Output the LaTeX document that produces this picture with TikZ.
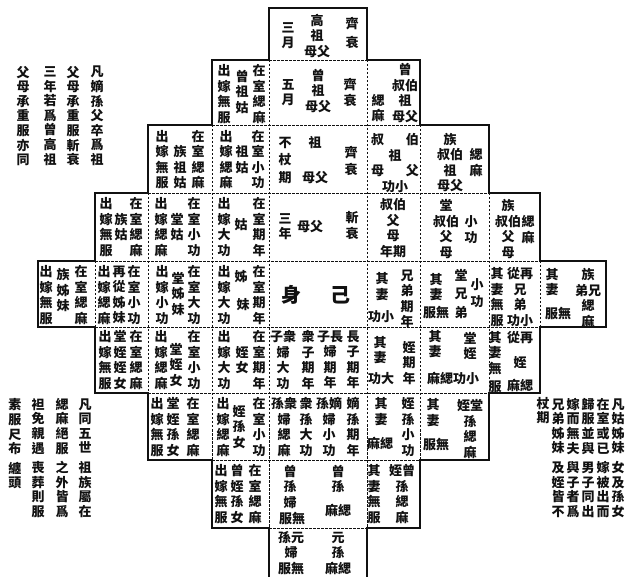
\documentclass[tikz,border=0pt]{standalone}
\usepackage{fontspec}
\setmainfont{Noto Sans CJK TC}
\usepackage{tikz}
\usetikzlibrary{positioning}
\definecolor{cink}{HTML}{111111}

\tikzset{
  vt/.style={cink, align=center, inner sep=0pt, font=\fontsize{13}{15.5}\selectfont\bfseries},
  nt/.style={cink, align=center, inner sep=0pt, font=\fontsize{13}{14.6}\selectfont\bfseries},
  bigch/.style={cink, inner sep=0pt, font=\fontsize{20}{20}\selectfont\bfseries},
  rim/.style={cink, line width=1.8pt, line join=miter},
  seam/.style={cink, line width=0.7pt, dash pattern=on 2.5pt off 1.5pt},
}

\begin{document}
\begin{tikzpicture}[x=1pt, y=-1pt]
\useasboundingbox (0,0) rectangle (627,577);
\fill[white] (0,0) rectangle (627,577);

% grid edges
\def\colA{38}\def\colB{95}\def\colC{148}\def\colD{212}\def\colE{269}
\def\colF{367}\def\colG{420}\def\colH{489}\def\colI{540}\def\colJ{606}
\def\rowA{8}\def\rowB{60}\def\rowC{125}\def\rowD{193}\def\rowE{261}
\def\rowF{327}\def\rowG{393}\def\rowH{460}\def\rowI{528}\def\rowJ{577}

% ============================================================
% Outline (stepped diamond) and inner seams
\draw[rim] (\colE,\rowJ) -- (\colE,\rowI) -- (\colD,\rowI) -- (\colD,\rowH)
  -- (\colC,\rowH) -- (\colC,\rowG) -- (\colB,\rowG) -- (\colB,\rowF)
  -- (\colA,\rowF) -- (\colA,\rowE) -- (\colB,\rowE) -- (\colB,\rowD)
  -- (\colC,\rowD) -- (\colC,\rowC) -- (\colD,\rowC) -- (\colD,\rowB)
  -- (\colE,\rowB) -- (\colE,\rowA) -- (\colF,\rowA) -- (\colF,\rowB)
  -- (\colG,\rowB) -- (\colG,\rowC) -- (\colH,\rowC) -- (\colH,\rowD)
  -- (\colI,\rowD) -- (\colI,\rowE) -- (\colJ,\rowE) -- (\colJ,\rowF)
  -- (\colI,\rowF) -- (\colI,\rowG) -- (\colH,\rowG) -- (\colH,\rowH)
  -- (\colG,\rowH) -- (\colG,\rowI) -- (\colF,\rowI) -- (\colF,\rowJ);

\foreach \l/\r/\t/\b in {\colE/\colF/\rowB/\rowI, \colD/\colG/\rowC/\rowH,
                         \colC/\colH/\rowD/\rowG, \colB/\colI/\rowE/\rowF}{
  \draw[seam] (\l,\t) -- (\r,\t);
  \draw[seam] (\l,\b) -- (\r,\b);
  \draw[seam] (\l,\t) -- (\l,\b);
  \draw[seam] (\r,\t) -- (\r,\b);
}

% ============================================================
% Row 1: great-great-grandparents
\node[vt] (r1m) at (288,35.5) {三\\月};
\node[vt] (r1n) at (317,36) {高\\祖\\母父};
\node[vt] (r1s) at (352,33) {齊\\[4pt]衰};

% Row 2
\node[vt] (r2ao) at (224,94) {出\\嫁\\無\\服};
\node[vt] (r2an) at (242,92) {曾\\祖\\姑};
\node[vt] (r2ai) at (259,94) {在\\室\\緦\\麻};
\node[vt] (r2bm) at (288,92.5) {五\\月};
\node[vt] (r2bn) at (318,91) {曾\\祖\\母父};
\node[vt] (r2bs) at (350,92.5) {齊\\衰};
\node[vt] (r2cn) at (405,93) {曾\\叔伯\\祖\\母父};
\node[vt] (r2cs) at (378,108) {緦\\麻};

% Row 3
\node[vt] (r3ao) at (162,159.75) {出\\嫁\\無\\服};
\node[vt] (r3an) at (180,167.5) {族\\祖\\姑};
\node[vt] (r3ai) at (198,159.75) {在\\室\\緦\\麻};
\node[vt] (r3bo) at (226,159.75) {出\\嫁\\緦\\麻};
\node[vt] (r3bn) at (242,159.75) {祖\\姑};
\node[vt] (r3bi) at (258,159.75) {在\\室\\小\\功};
\node[vt] (r3cm) at (285,160.5) {不\\[2pt]杖\\[2pt]期};
\node[vt] (r3cn) at (315,143) {祖};
\node[vt] (r3cp) at (315,178) {母父};
\node[vt] (r3cs) at (351,161) {齊\\[2pt]衰};
\node[vt] (r3dn) at (395,163) {叔\hspace{22pt}伯\\祖\\母\hspace{22pt}父\\功小};
\node[vt] (r3en) at (450,162.5) {族\\叔伯\\祖\\母父};
\node[vt] (r3es) at (476,162.5) {緦\\麻};

% Row 4
\node[vt] (r4ao) at (106,227) {出\\嫁\\無\\服};
\node[vt] (r4an) at (121,227) {族\\姑};
\node[vt] (r4ai) at (136,227) {在\\室\\緦\\麻};
\node[vt] (r4bo) at (161,227) {出\\嫁\\緦\\麻};
\node[vt] (r4bn) at (177,227) {堂\\姑};
\node[vt] (r4bi) at (194,227) {在\\室\\小\\功};
\node[vt] (r4co) at (224,227) {出\\嫁\\大\\功};
\node[vt] (r4cn) at (241,225) {姑};
\node[vt] (r4ci) at (259,227) {在\\室\\期\\年};
\node[vt] (r4dm) at (285,226.5) {三\\年};
\node[vt] (r4dn) at (310,227) {母父};
\node[vt] (r4ds) at (352,225.5) {斬\\衰};
\node[vt] (r4en) at (393,228) {叔伯\\父\\母\\年期};
\node[vt] (r4fn) at (446,229) {堂\\叔伯\\父\\母};
\node[vt] (r4fs) at (471,229.5) {小\\功};
\node[vt] (r4gn) at (508,229) {族\\叔伯\\父\\母};
\node[vt] (r4gs) at (528,229.5) {緦\\麻};

% ============================================================
% Row 5: self
\node[vt] (r5ao) at (46,295) {出\\嫁\\無\\服};
\node[vt] (r5an) at (63,290) {族\\姊\\妹};
\node[vt] (r5ai) at (81,295) {在\\室\\緦\\麻};
\node[vt] (r5bo) at (104,295) {出\\嫁\\緦\\麻};
\node[vt] (r5bn) at (119,295) {再\\從\\姊\\妹};
\node[vt] (r5bi) at (134,295) {在\\室\\小\\功};
\node[vt] (r5co) at (162,295) {出\\嫁\\小\\功};
\node[vt] (r5cn) at (178,294) {堂\\姊\\妹};
\node[vt] (r5ci) at (194,295) {在\\室\\大\\功};
\node[vt] (r5do) at (224,295) {出\\嫁\\大\\功};
\node[vt] (r5dn) at (241,277) {姊};
\node[vt] (r5dp) at (243,305) {妹};
\node[vt] (r5di) at (259,295) {在\\室\\期\\年};
\node[bigch] (self1) at (291,295) {身};
\node[bigch] (self2) at (340,295) {己};
\node[vt] (r5fw) at (382,286.5) {其\\妻};
\node[vt] (r5fn) at (407,299) {兄\\弟\\期\\年};
\node[vt] (r5fs) at (381,317) {功小};
\node[vt] (r5gw) at (436,287) {其\\妻};
\node[vt] (r5gs) at (436,312) {服無};
\node[vt] (r5gn) at (461,294) {堂\\[3pt]兄\\[3pt]弟};
\node[vt] (r5gt) at (477,293) {小\\[2pt]功};
\node[vt] (r5hw) at (497,297) {其\\妻\\無\\服};
\node[vt] (r5hn) at (520,297) {從再\\兄\\弟\\功小};
\node[vt] (r5iw) at (552,282) {其\\妻};
\node[vt] (r5in) at (588,298) {族\\弟兄\\緦\\麻};
\node[vt] (r5is) at (558,313) {服無};

% ============================================================
% Row 6: sons
\node[vt] (r6ao) at (105,360) {出\\嫁\\無\\服};
\node[vt] (r6an) at (120,360) {堂\\姪\\姪\\女};
\node[vt] (r6ai) at (136,360) {在\\室\\緦\\麻};
\node[vt] (r6bo) at (161,360) {出\\嫁\\緦\\麻};
\node[vt] (r6bn) at (176,365) {堂\\姪\\女};
\node[vt] (r6bi) at (194,360) {在\\室\\小\\功};
\node[vt] (r6co) at (224,360) {出\\嫁\\大\\功};
\node[vt] (r6cn) at (242,360) {姪\\女};
\node[vt] (r6ci) at (259,360) {在\\室\\期\\年};
\node[vt] (r6d1) at (283,360) {子衆\\婦\\大\\功};
\node[vt] (r6d2) at (308,360) {衆\\子\\期\\年};
\node[vt] (r6d3) at (330,360) {子長\\婦\\期\\年};
\node[vt] (r6d4) at (353,360) {長\\子\\期\\年};
\node[vt] (r6ew) at (380,350) {其\\妻};
\node[vt] (r6en) at (409,363) {姪\\期\\年};
\node[vt] (r6es) at (381,379) {功大};
\node[vt] (r6fw) at (435,344) {其\\妻};
\node[vt] (r6fn) at (470,346) {堂\\姪};
\node[vt] (r6fs) at (453,378) {麻緦功小};
\node[vt] (r6gw) at (495,362) {其\\妻\\無\\[3pt]服};
\node[vt] (r6gn) at (520,350) {從再\\[9pt]姪};
\node[vt] (r6gs) at (520,385) {麻緦};

% Row 7: grandsons
\node[vt] (r7ao) at (157,427) {出\\嫁\\無\\服};
\node[vt] (r7an) at (173,427) {堂\\姪\\孫\\女};
\node[vt] (r7ai) at (193,427) {在\\室\\緦\\麻};
\node[vt] (r7bo) at (223,427) {出\\嫁\\緦\\麻};
\node[vt] (r7bn) at (239,427) {姪\\孫\\女};
\node[vt] (r7bi) at (259,427) {在\\室\\小\\功};
\node[vt] (r7c1) at (284,427) {孫衆\\婦\\緦\\麻};
\node[vt] (r7c2) at (306,427) {衆\\孫\\大\\功};
\node[vt] (r7c3) at (329,427) {孫嫡\\婦\\小\\功};
\node[vt] (r7c4) at (353,427) {嫡\\孫\\期\\年};
\node[vt] (r7dw) at (381,411.5) {其\\妻};
\node[vt] (r7dn) at (408,427) {姪\\孫\\小\\功};
\node[vt] (r7ds) at (380,443) {麻緦};
\node[vt] (r7ew) at (433,412.5) {其\\妻};
\node[vt] (r7es) at (436,444) {服無};
\node[vt] (r7en) at (470,429) {姪堂\\孫\\緦\\麻};

% Row 8 and row 9
\node[vt] (r8ao) at (221,494) {出\\嫁\\無\\服};
\node[vt] (r8an) at (237,494) {曾\\姪\\孫\\女};
\node[vt] (r8ai) at (255,494) {在\\室\\緦\\麻};
\node[vt] (r8bw) at (290,487) {曾\\孫\\婦};
\node[vt] (r8bx) at (292,518) {服無};
\node[vt] (r8bn) at (338,479) {曾\\孫};
\node[vt] (r8bs) at (338,510) {麻緦};
\node[vt] (r8cw) at (374,494) {其\\妻\\無\\服};
\node[vt] (r8cn) at (402,494) {姪曾\\孫\\緦\\麻};
\node[vt] (r9w) at (291,553) {孫元\\婦\\服無};
\node[vt] (r9n) at (338,553) {元\\孫\\麻緦};

% ============================================================
% Side notes
\node[nt] (nta) at (97,116) {凡\\嫡\\孫\\父\\卒\\爲\\祖};
\node[nt] (ntb) at (73,116) {父\\母\\承\\重\\服\\斬\\衰};
\node[nt] (ntc) at (50,116) {三\\年\\若\\爲\\曾\\高\\祖};
\node[nt] (ntd) at (23,116) {父\\母\\承\\重\\服\\亦\\同};

\node[nt] (nba) at (85,458) {凡\\同\\五\\世\\[5pt]祖\\族\\屬\\在};
\node[nt] (nbb) at (62,458) {緦\\麻\\絕\\服\\[5pt]之\\外\\皆\\爲};
\node[nt] (nbc) at (38,458) {袒\\免\\親\\遇\\[5pt]喪\\葬\\則\\服};
\node[nt] (nbd) at (15,444) {素\\服\\尺\\布\\[5pt]纏\\頭};

\node[nt] (nra) at (618,458) {凡\\姑\\姊\\妹\\[5pt]女\\及\\孫\\女};
\node[nt] (nrb) at (603,458) {在\\室\\或\\已\\[5pt]嫁\\被\\出\\而};
\node[nt] (nrc) at (588,458) {歸\\服\\並\\與\\[5pt]男\\子\\同\\出};
\node[nt] (nrd) at (573,458) {嫁\\而\\無\\夫\\[5pt]與\\子\\者\\爲};
\node[nt] (nre) at (558,458) {兄\\弟\\姊\\妹\\[5pt]及\\姪\\皆\\不};
\node[nt] (nrf) at (543,410.5) {杖\\期};

\end{tikzpicture}
\end{document}
